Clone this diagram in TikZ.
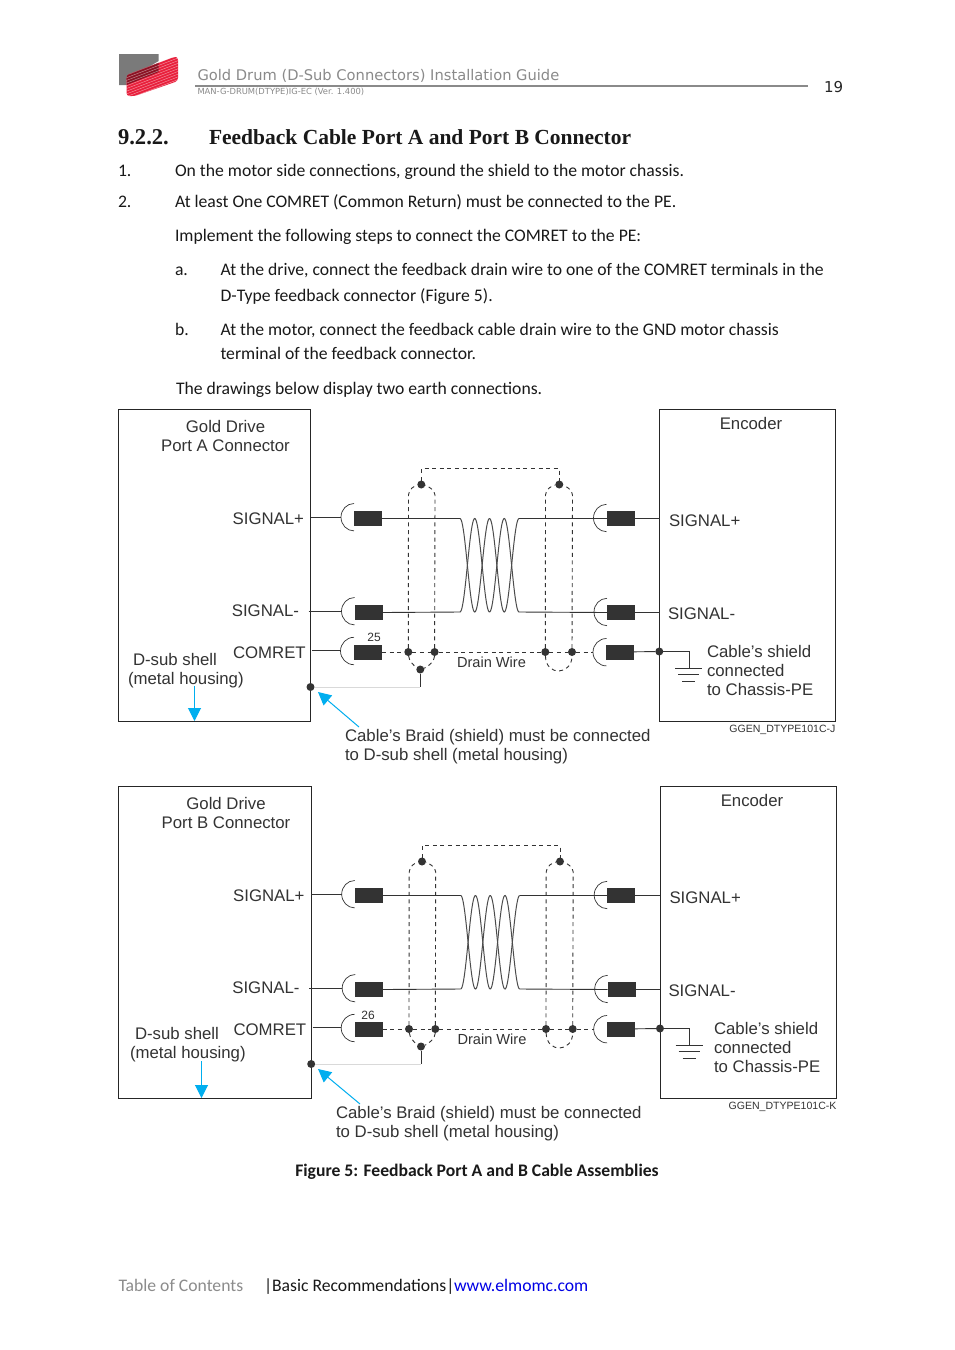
\documentclass[tikz,border=0pt]{standalone}
\usepackage{fontspec}
\setmainfont{Carlito}
\newfontfamily\arialf{Liberation Sans}
\newfontfamily\serf{Liberation Serif}
\newfontfamily\verd{DejaVu Sans}
\usetikzlibrary{arrows.meta}
\definecolor{ink}{HTML}{333333}
\definecolor{skyb}{HTML}{00AEEF}
\definecolor{headgray}{HTML}{8A8A8A}
\definecolor{elmored}{HTML}{E8203C}
\newcommand{\fsz}[2]{\fontsize{#1}{#2}\selectfont}
\tikzset{
  x=1pt,y=-1pt,
  bodytext/.style={anchor=base west,inner sep=0,outer sep=0,font=\fsz{17.65}{20},text=black!90},
  lab/.style={anchor=base west,inner sep=0,outer sep=0,font=\arialf\fsz{16.78}{20},text=ink},
  labc/.style={lab,anchor=base},
  labr/.style={lab,anchor=base east},
  tiny/.style={lab,font=\arialf\fsz{10.55}{12}},
  pinnum/.style={lab,anchor=base,font=\arialf\fsz{12}{14}},
  panel/.style={draw=black!85,line width=0.9pt,fill=none},
  wire/.style={draw=ink,line width=0.9pt},
  dashw/.style={draw=ink,line width=0.9pt,dash pattern=on 4pt off 3.6pt},
  graywire/.style={draw=black!15,line width=0.9pt},
  dot/.style={circle,fill=ink,minimum size=8pt,inner sep=0,outer sep=0},
  contact/.style={rectangle,fill=ink,minimum width=28pt,minimum height=15pt,inner sep=0,outer sep=0},
  pt/.style={inner sep=0,outer sep=0,minimum size=0pt},
  callout/.style={draw=skyb,line width=1pt,-{Triangle[length=13pt,width=13pt,fill=skyb]}},
  twist/.style={draw=black!70,line width=1pt},
}
% one cable schematic, drawn in the coordinates of the upper figure
\newcommand{\cablepart}{%
  \node[dot] (rowP) at (659.3,651.5) {};
  \node[contact] (cA) at (368,518.5) {};
  \node[contact] (cB) at (368.5,612.5) {};
  \node[contact] (cC) at (368,652) {};
  \node[contact] (dA) at (620.5,518.5) {};
  \node[contact] (dB) at (621,612.5) {};
  \node[contact] (dC) at (620,652) {};
  \node[pt] (tw1) at (460,518.5) {};
  \node[pt] (tw2) at (460,612) {};
  \node[pt] (tw3) at (519,518.5) {};
  \node[pt] (tw4) at (519,612) {};
  \node[dot] (s1) at (408.3,652) {};
  \node[dot] (s2) at (434.6,652) {};
  \node[dot] (s3) at (545.3,652) {};
  \node[dot] (s4) at (572,652) {};
  \node[dot] (t1) at (421.3,484.5) {};
  \node[dot] (t2) at (559.3,484.5) {};
  \node[dot] (b1) at (420.3,669.5) {};
  \node[dot] (gnd) at (310.5,687) {};
  % arcs of connectors
  \draw[wire,line width=0.7pt] (354,503.5) arc[start angle=270,end angle=90,x radius=13,y radius=13.7];
  \draw[wire,line width=0.7pt] (354.5,597.5) arc[start angle=270,end angle=90,x radius=13,y radius=13.7];
  \draw[wire,line width=0.7pt] (354,637.3) arc[start angle=270,end angle=90,x radius=13.5,y radius=13.7];
  \draw[wire,line width=0.7pt] (606.5,504.3) arc[start angle=270,end angle=90,x radius=13,y radius=13.7];
  \draw[wire,line width=0.7pt] (607,598.3) arc[start angle=270,end angle=90,x radius=13,y radius=13.7];
  \draw[wire,line width=0.7pt] (606.5,638.5) arc[start angle=270,end angle=90,x radius=13.5,y radius=13.7];
  % signal wires
  \draw[wire] (310.5,517.5) -- (341,517.5);
  \draw[wire] (308.5,611.3) -- (341.5,611.3);
  \draw[wire] (312,650.5) -- (340.5,650.5);
  \draw[wire] (cA) -- (tw1);
  \draw[wire] (cB.east) -- (tw2);
  \draw[wire] (tw3) -- (dA);
  \draw[wire] (tw4) -- (dB.west);
  \draw[wire] (dA) -- (659.5,518.5);
  \draw[wire] (dB) -- (659.5,612.5);
  \draw[wire] (dC) -- (rowP);
  % twisted pair
  \draw[twist] plot[domain=0:59,samples=90] ({460+\x},{565.25-46.75*cos(\x*180/14.75)});
  \draw[twist] plot[domain=0:59,samples=90] ({460+\x},{565.25+46.75*cos(\x*180/14.75)});
  % drain wire
  \draw[dashw] (cC) -- (s1);
  \draw[dashw] (s1) -- (s2);
  \draw[dashw] (s2) -- (s3);
  \draw[dashw] (s3) -- (s4);
  \draw[dashw] (s4) -- (593,652);
  % shield braid
  \draw[dashw] (s1) -- (408.5,495) .. controls (408.5,489) and (415,485.5) .. (t1);
  \draw[dashw] (s2) -- (435,495) .. controls (435,490) and (428,486) .. (t1);
  \draw[dashw] (s3) -- (545.5,495) .. controls (545.5,489) and (552,485.5) .. (t2);
  \draw[dashw] (s4) -- (572.5,495) .. controls (572.5,490) and (566,486) .. (t2);
  \draw[dashw] (t1) |- (559.3,468.5) -- (t2);
  \draw[dashw] (s1) .. controls (409,661) and (414,666) .. (b1);
  \draw[dashw] (s2) .. controls (434.6,661) and (428,667) .. (b1);
  \draw[dashw] (s3) .. controls (546,677) and (572,675) .. (s4);
  % earth connection
  \draw[wire] (b1) -- (420.3,687);
  \draw[graywire] (gnd) -- (420.3,687);
  % chassis earth
  \node[pt] (gr) at (689,668) {};
  \draw[wire] (rowP) -| (gr);
  \draw[wire,line width=0.8pt] (675,668) -- (702,668);
  \draw[wire,line width=0.8pt] (678,674.5) -- (699,674.5);
  \draw[wire,line width=0.8pt] (682,681) -- (695,681);
}
\begin{document}
\begin{tikzpicture}
\useasboundingbox (0,0) rectangle (954,1350);
\fill[white] (0,0) rectangle (954,1350);

% logo
\fill[black!52] (119,54) -- (158.7,54) -- (158.7,61) -- (126.5,80) -- (126.5,85) -- (119,85) -- cycle;
\begin{scope}
  \clip[rounded corners=3pt] (126.5,75) -- (174,57) -- (178,57) -- (178,81) -- (135,96) -- (126.5,96) -- cycle;
  \fill[elmored] (120,50) rectangle (180,100);
  \fill[black!40!elmored] (126.5,75) -- (158.7,61) -- (158.7,72) -- (126.5,85) -- cycle;
  \foreach \k in {0,2.7,...,54}
    \draw[white,opacity=0.55,line width=0.4pt] (120,{64+\k}) -- (180,{41+\k});
\end{scope}

% header
\node[bodytext,font=\verd\fsz{14.68}{16},text=headgray] (hdtitle) at (197.5,80) {Gold Drum (D-Sub Connectors) Installation Guide};
\node[pt] (hl) at (195,86) {};
\node[pt] (hr) at (808,86) {};
\draw[headgray,line width=1.3pt] (hl) -- (hr);
\node[bodytext,font=\verd\fsz{8.38}{9},text=headgray] (hdsub) at (197.5,94) {MAN-G-DRUM(DTYPE)IG-EC (Ver. 1.400)};
\node[bodytext,font=\verd\fsz{15}{17},text=black!85] (pageno) at (824,92) {19};

% section text
\node[bodytext,font=\serf\bfseries\fsz{22.6}{24}] (secno) at (118,144) {9.2.2.};
\node[bodytext,font=\serf\bfseries\fsz{21.5}{24}] (sectitle) at (209,144) {Feedback Cable Port A and Port B Connector};
\node[bodytext] (n1) at (118,176) {1.};
\node[bodytext] (l1) at (175,176) {On the motor side connections, ground the shield to the motor chassis.};
\node[bodytext] (n2) at (118,207) {2.};
\node[bodytext] (l2) at (175,207) {At least One COMRET (Common Return) must be connected to the PE.};
\node[bodytext] (l3) at (175,241) {Implement the following steps to connect the COMRET to the PE:};
\node[bodytext] (na) at (175,275) {a.};
\node[bodytext] (la1) at (220.5,275) {At the drive, connect the feedback drain wire to one of the COMRET terminals in the};
\node[bodytext] (la2) at (220.5,301) {D-Type feedback connector (Figure 5).};
\node[bodytext] (nb) at (175,335) {b.};
\node[bodytext] (lb1) at (220.5,335) {At the motor, connect the feedback cable drain wire to the GND motor chassis};
\node[bodytext] (lb2) at (220.5,359) {terminal of the feedback connector.};
\node[bodytext] (l4) at (176,394) {The drawings below display two earth connections.};

% upper figure
\node[panel,pt,draw,minimum width=192pt,minimum height=312pt] (A-left) at (214.5,565.5) {};
\node[panel,pt,draw,minimum width=176pt,minimum height=312pt] (A-right) at (747.5,565.5) {};
\begin{scope}[name prefix=A-]
  \cablepart
\end{scope}
\node[labc] (A1) at (225.5,432) {Gold Drive};
\node[labc] (A2) at (225.5,451) {Port A Connector};
\node[labr] (A3) at (304,524) {SIGNAL+};
\node[labr] (A4) at (299,616) {SIGNAL-};
\node[lab] (A5) at (233,658.5) {COMRET};
\node[lab] (A6) at (133,665) {D-sub shell};
\node[lab] (A7) at (128,684) {(metal housing)};
\node[labc] (A8) at (751,429) {Encoder};
\node[lab] (A9) at (669,526) {SIGNAL+};
\node[lab] (A10) at (668,619) {SIGNAL-};
\node[lab] (A11) at (707,657) {Cable’s shield};
\node[lab] (A12) at (707,676) {connected};
\node[lab] (A13) at (707,695) {to Chassis-PE};
\node[lab] (A14) at (345,741) {Cable’s Braid (shield) must be connected};
\node[lab] (A15) at (345,760) {to D-sub shell (metal housing)};
\node[tiny,anchor=base east] (A16) at (835.5,732) {GGEN\_DTYPE101C-J};
\node[lab,anchor=base,font=\arialf\fsz{14.6}{16}] (A17) at (491.5,667) {Drain Wire};
\node[pinnum] (A18) at (374,641) {25};
\coordinate (A-arrS) at (359,727);
\coordinate (A-arrE) at (318,692);
\draw[callout] (A-arrS) -- (A-arrE);
\coordinate (A-ds) at (194.5,686);
\coordinate (A-de) at (194.5,721);
\draw[callout] (A-ds) -- (A-de);

% lower figure
\node[panel,pt,draw,minimum width=193pt,minimum height=312pt] (B-left) at (215,942.5) {};
\node[panel,pt,draw,minimum width=176pt,minimum height=312pt] (B-right) at (748.5,942.5) {};
\begin{scope}[name prefix=B-,shift={(0.7,377)}]
  \cablepart
\end{scope}
\node[labc] (B1) at (226,809) {Gold Drive};
\node[labc] (B2) at (226,828) {Port B Connector};
\node[labr] (B3) at (304.5,901) {SIGNAL+};
\node[labr] (B4) at (299.5,993) {SIGNAL-};
\node[lab] (B5) at (233.5,1035.5) {COMRET};
\node[lab] (B6) at (135,1039) {D-sub shell};
\node[lab] (B7) at (130,1058) {(metal housing)};
\node[labc] (B8) at (752,806) {Encoder};
\node[lab] (B9) at (669.5,903) {SIGNAL+};
\node[lab] (B10) at (668.5,996) {SIGNAL-};
\node[lab] (B11) at (714,1034) {Cable’s shield};
\node[lab] (B12) at (714,1053) {connected};
\node[lab] (B13) at (714,1072) {to Chassis-PE};
\node[lab] (B14) at (336,1118) {Cable’s Braid (shield) must be connected};
\node[lab] (B15) at (336,1137) {to D-sub shell (metal housing)};
\node[tiny,anchor=base east] (B16) at (836.5,1109) {GGEN\_DTYPE101C-K};
\node[lab,anchor=base,font=\arialf\fsz{14.6}{16}] (B17) at (492,1044) {Drain Wire};
\node[pinnum] (B18) at (368,1019) {26};
\coordinate (B-arrS) at (360,1104);
\coordinate (B-arrE) at (318,1069);
\draw[callout] (B-arrS) -- (B-arrE);
\coordinate (B-ds) at (201.5,1061);
\coordinate (B-de) at (201.5,1098);
\draw[callout] (B-ds) -- (B-de);

% caption and footer
\node[bodytext,anchor=base,font=\bfseries\fsz{17.65}{20}] (cap) at (477,1176) {Figure 5: Feedback Port A and B Cable Assemblies};
\node[bodytext,text=black!45] (f1) at (118.5,1291) {Table of Contents};
\node[bodytext] (f2) at (264,1291) {|Basic Recommendations|};
\node[bodytext,text=blue!90!black] (f3) at (454,1291) {www.elmomc.com};
\end{tikzpicture}
\end{document}
